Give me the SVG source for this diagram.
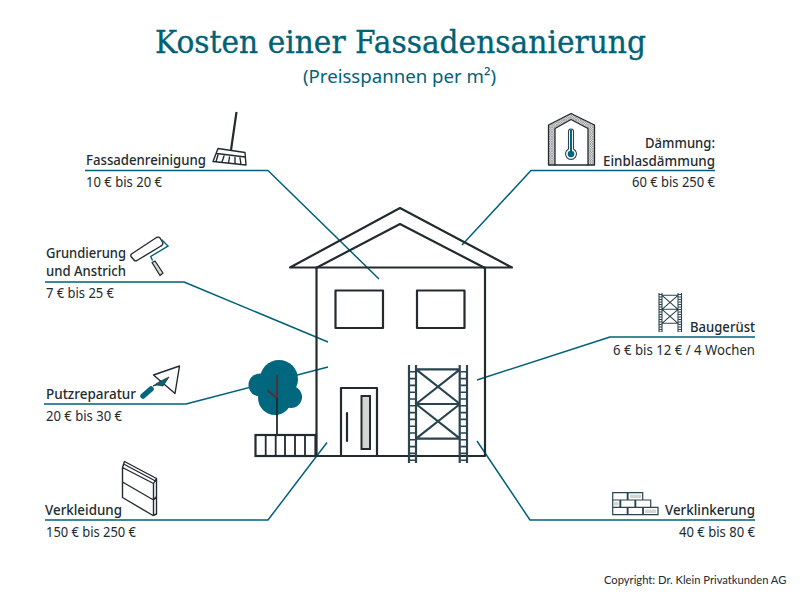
<svg xmlns="http://www.w3.org/2000/svg" width="800" height="600" viewBox="0 0 800 600">
<style>
text{font-family:"Noto Sans","Liberation Sans",sans-serif;fill:#222b30}
.h{font-size:13.800px;font-weight:500}
.p{font-size:14px}
.e{text-anchor:end}
.t{font-family:"DejaVu Serif","Liberation Serif",serif;font-size:31.500px;fill:#006276;stroke:#006276;stroke-width:.35}
.s{font-size:18px;fill:#006276}
.c{font-family:Lato,"Liberation Sans",sans-serif;font-size:11.200px}
.k{fill:none;stroke:#222b30;stroke-width:2.2;stroke-linejoin:round;stroke-linecap:round}
.k1{fill:none;stroke:#222b30;stroke-width:1.4;stroke-linejoin:round;stroke-linecap:round}
.l{fill:none;stroke:#00607a;stroke-width:1.5;stroke-linejoin:round}
.g{fill:none;stroke:#2a4450;stroke-width:2.2}
.g1{fill:none;stroke:#2a4450;stroke-width:1.1}
.b{fill:none;stroke:#2a4450;stroke-width:1.2}
.d{fill:#d4d6d6;stroke:none}
.f{fill:#00677f}
</style>
<defs>
<pattern id="hatch" width="2.4" height="2.4" patternUnits="userSpaceOnUse"><rect width="2.4" height="2.4" fill="#e2e2e2"/><path d="M0 0L2.4 2.4M2.4 0L0 2.4" stroke="#777" stroke-width=".5"/></pattern>
</defs>
<rect width="800" height="600" fill="#fff"/>
<g id="title">
<text class="t" x="155" y="53" textLength="491" lengthAdjust="spacingAndGlyphs">Kosten einer Fassadensanierung</text>
<text class="s" x="303" y="83" textLength="193" lengthAdjust="spacingAndGlyphs">(Preisspannen per m²)</text>
</g>
<g id="connectors">
<path class="l" d="M85 170.500H268L379 279"/>
<path class="l" d="M45 282H184L328 342"/>
<path class="l" d="M44 404H186L328 367"/>
<path class="l" d="M45 520H268L327 442.500"/>
<path class="l" d="M715 170.500H531L462 245"/>
<path class="l" d="M755 337H610L477 380"/>
<path class="l" d="M755 520H530L477 441"/>
</g>
<g id="house">
<path class="k" d="M316.500 267.500V456H485V267.500"/>
<path class="k" d="M290 267.500L400 208L512 267.500Z"/>
<path class="k" d="M317 267.500L400 224L484 267.500"/>
<rect class="k" x="335.500" y="290.500" width="47.500" height="37.500"/>
<rect class="k" x="417" y="290.500" width="47.500" height="37.500"/>
</g>
<g id="door">
<rect class="k" x="341" y="388" width="36" height="68"/>
<rect x="361.500" y="396" width="8.500" height="53" fill="#d4d6d6" stroke="#222b30" stroke-width="2"/>
<path class="k" d="M347 413V441"/>
</g>
<g id="scaffold">
<path class="g" d="M409 365V463M416 365V463M459.700 365V463M467 365V463M416 369.300H460M416 404H460M416 438.700H460M416 369.300L460 404M460 369.300L416 404M416 404L460 438.700M460 404L416 438.700"/>
<path d="M412.500 371V461M463.400 371V461" fill="none" stroke="#2a4450" stroke-width="6" stroke-dasharray="1.600 5.200"/>
</g>
<g id="tree">
<circle class="f" cx="279" cy="379" r="19"/>
<circle class="f" cx="260" cy="385" r="11.500"/>
<circle class="f" cx="291" cy="397" r="11"/>
<circle class="f" cx="275" cy="398" r="17"/>
<path d="M277 375V398M267 390L277 398" fill="none" stroke="#5a2c36" stroke-width="1.800"/>
<path d="M277 398V435" fill="none" stroke="#222b30" stroke-width="1.800"/>
</g>
<g id="fence">
<rect class="k" x="255.500" y="435" width="60" height="21" style="stroke-linejoin:miter"/>
<path class="k" d="M265.700 435V456M275.700 435V456M285 435V456M295 435V456M305 435V456" style="stroke-width:1.800"/>
</g>
<g id="fassadenreinigung">
<text class="h" x="86" y="165" textLength="120" lengthAdjust="spacingAndGlyphs">Fassadenreinigung</text>
<text class="p" x="86" y="187" textLength="76" lengthAdjust="spacingAndGlyphs">10 € bis 20 €</text>
<path d="M236.500 112L231 150" fill="none" stroke="#222b30" stroke-width="2.200"/>
<path class="k1" d="M218 148.500L245 152.500L246 165L213 161.500ZM217 153.500L245 157M218 155L216 161.500M224 156L222 162M229.500 157L228.500 163M235 157.500V164M240 158L241 164.500"/>
</g>
<g id="grundierung">
<text class="h" x="46" y="258" textLength="80" lengthAdjust="spacingAndGlyphs">Grundierung</text>
<text class="h" x="46" y="276" textLength="80" lengthAdjust="spacingAndGlyphs">und Anstrich</text>
<text class="p" x="46" y="298" textLength="68" lengthAdjust="spacingAndGlyphs">7 € bis 25 €</text>
<path class="k1" d="M131.500 254L156.500 237.500Q159 236.500 160 238L163 243Q163 245 161 246L137 260.500Q135 261.500 134 260L131 256.500Q130.500 255 131.500 254Z"/>
<path d="M161.500 239.500L168 246L150.700 256.500L152.500 260.500" fill="none" stroke="#00607a" stroke-width="1.400"/>
<path d="M152 262.500L155 261L163 273L160 275.500Z" fill="#d8dada" stroke="#222b30" stroke-width="1.300" stroke-linejoin="round"/>
</g>
<g id="putzreparatur">
<text class="h" x="46" y="399" textLength="90" lengthAdjust="spacingAndGlyphs">Putzreparatur</text>
<text class="p" x="46" y="421" textLength="76" lengthAdjust="spacingAndGlyphs">20 € bis 30 €</text>
<path class="k1" d="M153.500 375L179.500 366L175 393.500Z"/>
<path d="M153 386L159 382L169 377L163 386L157 385Z" fill="#00677f" stroke="#222b30" stroke-width=".8"/>
<path d="M143 396L151 389" stroke="#00677f" stroke-width="5.500" stroke-linecap="round"/>
</g>
<g id="verkleidung">
<text class="h" x="45" y="515" textLength="77" lengthAdjust="spacingAndGlyphs">Verkleidung</text>
<text class="p" x="46" y="537" textLength="90" lengthAdjust="spacingAndGlyphs">150 € bis 250 €</text>
<path class="k1" d="M122.500 467.500L124.500 461.500L156.500 478.500V514L153 515.500L122.500 497.500ZM122.500 482L153.500 500V515M156.500 496.500L153.500 500M122.500 467.500L153.500 483.500V500M153.500 483.500L156.500 478.500M124.500 464.500L155.500 481"/>
</g>
<g id="daemmung">
<text class="h e" x="715" y="148" textLength="70" lengthAdjust="spacingAndGlyphs">Dämmung:</text>
<text class="h e" x="715" y="166" textLength="112" lengthAdjust="spacingAndGlyphs">Einblasdämmung</text>
<text class="p e" x="715" y="187" textLength="83" lengthAdjust="spacingAndGlyphs">60 € bis 250 €</text>
<path d="M548.500 165V125L571 113.500L594.500 125V165H588V128.500L571 119.500L555 128.500V165Z" fill="url(#hatch)" stroke="#222b30" stroke-width="1.300" stroke-linejoin="round"/>
<path class="k1" d="M555 165H588"/>
<path d="M568.500 131.500A2.500 2.500 0 0 1 573.500 131.500V149A5.500 5.500 0 1 1 568.500 149Z" fill="#fff" stroke="#2a4450" stroke-width="1.100"/>
<path d="M571 129.500V152" stroke="#00677f" stroke-width="2"/>
<circle cx="571" cy="154" r="3.300" fill="#00677f"/>
</g>
<g id="baugeruest">
<text class="h e" x="755" y="332" textLength="65" lengthAdjust="spacingAndGlyphs">Baugerüst</text>
<text class="p e" x="755" y="355" textLength="142" lengthAdjust="spacingAndGlyphs">6 € bis 12 € / 4 Wochen</text>
<path class="g1" d="M659 293V332M662 293V332M678 293V332M681.500 293V332M662 295.300H678M662 309.300H678M662 323.300H678M662 295.300L678 309.300M678 295.300L662 309.300M662 309.300L678 323.300M678 309.300L662 323.300"/>
<path d="M660.500 294V332M679.700 294V332" fill="none" stroke="#2a4450" stroke-width="3" stroke-dasharray="1 1.500"/>
</g>
<g id="verklinkerung">
<text class="h e" x="755" y="515" textLength="90" lengthAdjust="spacingAndGlyphs">Verklinkerung</text>
<text class="p e" x="755" y="537" textLength="76" lengthAdjust="spacingAndGlyphs">40 € bis 80 €</text>
<rect class="d" x="630" y="494.500" width="11" height="3.500"/>
<rect class="d" x="614" y="502" width="4.500" height="3.500"/>
<rect class="d" x="645" y="509.500" width="11" height="3.500"/>
<path class="b" d="M612.700 492.700H627.300V500H612.700ZM628 492.700H642.700V500H628ZM612.700 500H620V507.300H612.700ZM620.700 500H635V507.300H620.700ZM635.700 500H650.700V507.300H635.700ZM612.700 507.300H627.300V514.700H612.700ZM628 507.300H642.700V514.700H628ZM643.300 507.300H658V514.700H643.300Z"/>
</g>
<g id="copyright">
<text class="c" x="604" y="584">Copyright: Dr. Klein Privatkunden AG</text>
</g>
</svg>
